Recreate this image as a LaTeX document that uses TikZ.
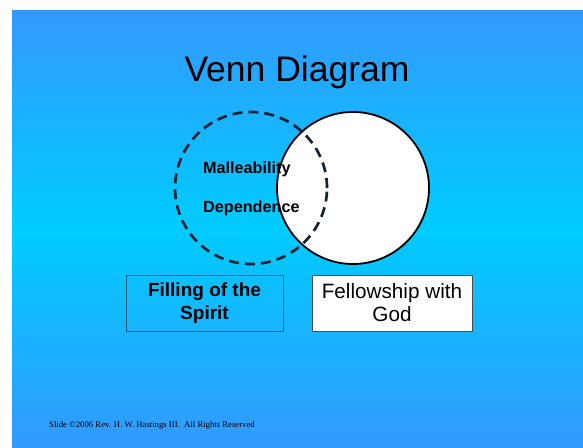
\documentclass[tikz,border=0pt]{standalone}
\usepackage{fontspec}
\setmainfont{Liberation Sans}
\newfontfamily\creditfont{Liberation Serif}
\definecolor{slideblue}{RGB}{51,153,255}
\definecolor{slidecyan}{RGB}{0,204,255}
\definecolor{dashink}{RGB}{20,35,50}
\definecolor{boxedge}{RGB}{25,90,120}
\begin{document}
\begin{tikzpicture}[x=1pt, y=-1pt, line join=round, font=\fontsize{16}{19}\selectfont]
	\tikzset{ring/.style={circle, minimum size=152pt, inner sep=0pt},
		setbox/.style={draw, minimum height=56pt, inner sep=2pt, align=center},
		inword/.style={anchor=base west, inner sep=0pt, font=\bfseries\fontsize{16.2}{19}\selectfont}}
	\useasboundingbox (0,0) rectangle (583,447);
	\fill[white] (0,0) rectangle (583,447);
	\shade[top color=slideblue, bottom color=slideblue, middle color=slidecyan] (12,10) rectangle (583,447);
	\node[font=\fontsize{35.5}{40}\selectfont] (title) at (297,72) {Venn Diagram};
	\node[ring, fill=white, draw=black, line width=1.8pt] (god) at (353,188) {};
	\node[ring, draw=dashink, line width=2.7pt, dash pattern=on 10pt off 6pt] (spirit) at (251,188) {};
	\node[inword] (mall) at (203,173) {Malleability};
	\node[inword] (dep) at (203,212.5) {Dependence};
	\node[setbox, draw=boxedge, minimum width=157pt, font=\bfseries\fontsize{19}{23}\selectfont] (filling) at (204.5,303) {Filling of the\\Spirit};
	\node[setbox, draw=black!70, fill=white, minimum width=160pt, font=\fontsize{20.7}{23}\selectfont] (fellow) at (392,303) {Fellowship with\\God};
	\node[anchor=base west, inner sep=0pt, font=\creditfont\fontsize{8.7}{10}\selectfont] (credit) at (49,427) {Slide ©2006 Rev. H. W. Hastings III.\ \ All Rights Reserved};
\end{tikzpicture}
\end{document}
